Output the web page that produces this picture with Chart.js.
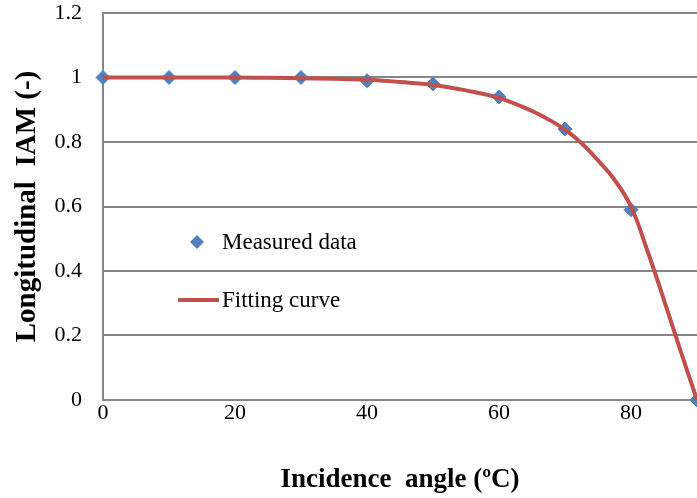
<!DOCTYPE html>
<html>
<head>
<meta charset="utf-8">
<script src="https://cdn.jsdelivr.net/npm/chart.js@4/dist/chart.umd.min.js"></script>
<style>
  html, body { margin: 0; padding: 0; background: #fff; }
  #wrap { width: 697px; height: 498px; overflow: hidden; position: relative; }
  canvas { display: block; }
</style>
</head>
<body>
<div id="wrap"><canvas id="iamChart" width="705" height="498"></canvas></div>
<script>
// Measured IAM values
var angles = [0, 10, 20, 30, 40, 50, 60, 70, 80, 90];
var measured = [1, 1, 1, 1, 0.99, 0.98, 0.94, 0.84, 0.59, 0];

// Fitting curve (denser where it bends)
var fitAngles = [0, 10, 20, 25, 30, 35, 40, 45, 50, 55, 60, 65, 67.5, 70, 72.5, 75, 77.5, 80, 82.5, 85, 87.5, 90];
var fitValues = [1, 1, 1, 0.999, 0.998, 0.996, 0.993, 0.986, 0.977, 0.96, 0.937, 0.896, 0.87, 0.838, 0.796, 0.743, 0.683, 0.6, 0.462, 0.31, 0.153, 0];

var yTicks = [0, 0.2, 0.4, 0.6, 0.8, 1, 1.2];

var serif = '"Liberation Serif", "Times New Roman", serif';

function pairs(xs, ys) {
    return xs.map(function (x, i) { return { x: x, y: ys[i] }; });
}

// legend drawn inside the plot area
var insideLegend = {
    id: 'insideLegend',
    afterDraw: function (chart) {
        var ctx = chart.ctx;
        var ds = chart.data.datasets;
        ctx.save();
        ctx.font = '23px ' + serif;
        ctx.textBaseline = 'middle';
        // diamond
        var cx = 197, cy = 242, r = 7;
        ctx.fillStyle = ds[0].backgroundColor;
        ctx.beginPath();
        ctx.moveTo(cx, cy - r);
        ctx.lineTo(cx + r, cy);
        ctx.lineTo(cx, cy + r);
        ctx.lineTo(cx - r, cy);
        ctx.closePath();
        ctx.fill();
        ctx.fillStyle = '#000';
        ctx.fillText(ds[0].label, 222, cy + 1);
        // line
        ctx.strokeStyle = ds[1].borderColor;
        ctx.lineWidth = 4;
        ctx.beginPath();
        ctx.moveTo(178, 300);
        ctx.lineTo(219, 300);
        ctx.stroke();
        ctx.fillText(ds[1].label, 222, 301);
        ctx.restore();
    }
};

var ctx = document.getElementById('iamChart').getContext('2d');
var iamChart = new Chart(ctx, {
    type: 'scatter',
    data: {
        datasets: [
            {
                label: 'Measured data',
                data: pairs(angles, measured),
                backgroundColor: '#4F81BD',
                borderColor: '#4F81BD',
                pointStyle: 'rectRot',
                pointRadius: 7,
                showLine: false,
                order: 2,
                clip: false
            },
            {
                label: 'Fitting curve',
                data: pairs(fitAngles, fitValues),
                borderColor: '#C0504D',
                backgroundColor: '#C0504D',
                borderWidth: 4,
                pointRadius: 0,
                showLine: true,
                tension: 0.4,
                order: 1,
                clip: false
            }
        ]
    },
    options: {
        responsive: false,
        animation: false,
        layout: { padding: { left: 0, top: 13, right: 5, bottom: 0 } },
        plugins: {
            legend: { display: false },
            tooltip: { enabled: false }
        },
        scales: {
            x: {
                type: 'linear',
                min: 0,
                max: 90,
                afterFit: function (scale) {
                    scale.height = 98;
                    scale.paddingLeft = 0;
                    scale.paddingRight = 0;
                },
                ticks: {
                    stepSize: 20,
                    color: '#000',
                    padding: 0,
                    font: { family: serif, size: 22 },
                    // the 90 label falls outside the picture
                    callback: function (v) { return v > 80 ? '' : String(v); }
                },
                grid: { display: false, drawTicks: false },
                border: { display: true, color: '#868686', width: 2 },
                title: {
                    display: true,
                    text: 'Incidence  angle (ºC)',
                    color: '#000',
                    padding: { top: 0, bottom: 2 },
                    font: { family: serif, size: 27, weight: 'bold' }
                }
            },
            y: {
                min: 0,
                max: 1.2,
                afterFit: function (scale) {
                    scale.width = 103;
                    scale.paddingTop = 0;
                    scale.paddingBottom = 0;
                },
                afterBuildTicks: function (scale) {
                    scale.ticks = yTicks.map(function (v) { return { value: v }; });
                },
                ticks: {
                    color: '#000',
                    padding: 21,
                    font: { family: serif, size: 22 },
                    callback: function (v) { return String(Math.round(v * 10) / 10); }
                },
                grid: { color: '#868686', lineWidth: 2, drawTicks: false },
                border: { display: true, color: '#868686', width: 2 },
                title: {
                    display: true,
                    text: 'Longitudinal  IAM (-)',
                    color: '#000',
                    padding: { top: 10, bottom: 0 },
                    font: { family: serif, size: 29, weight: 'bold' }
                }
            }
        }
    },
    plugins: [insideLegend]
});
</script>
</body>
</html>
